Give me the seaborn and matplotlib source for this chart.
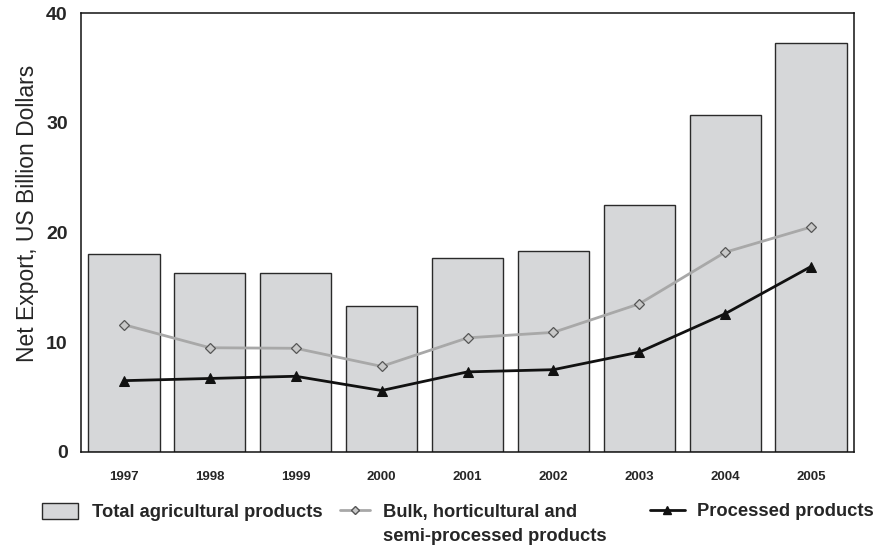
import numpy as np
import pandas as pd
import matplotlib
matplotlib.use("Agg")
import matplotlib.pyplot as plt
import seaborn as sns
from matplotlib.patches import Patch
from matplotlib.lines import Line2D

years = ["1997", "1998", "1999", "2000", "2001", "2002", "2003", "2004", "2005"]
total = [18.0, 16.3, 16.3, 13.3, 17.7, 18.3, 22.5, 30.7, 37.3]
bulk = [11.6, 9.5, 9.45, 7.8, 10.4, 10.9, 13.5, 18.2, 20.5]
processed = [6.5, 6.7, 6.9, 5.6, 7.3, 7.5, 9.1, 12.6, 16.9]

sns.set_theme(style="white")
plt.rcParams["font.family"] = ["Liberation Sans", "DejaVu Sans"]

df = pd.DataFrame({"year": years, "total": total, "bulk": bulk,
                   "processed": processed, "pos": np.arange(len(years))})

W, H = 881, 545
fig = plt.figure(figsize=(W / 100, H / 100), dpi=100)
ax = fig.add_axes([81 / W, 1 - 452 / H, (854 - 81) / W, (452 - 13) / H])

BAR_FILL = "#d6d7d9"
BAR_EDGE = "#2a2a2a"
BULK_COL = "#a8a8a8"
PROC_COL = "#111111"

sns.barplot(data=df, x="year", y="total", color=BAR_FILL, saturation=1,
            width=0.83, edgecolor=BAR_EDGE, linewidth=1.0, ax=ax, zorder=2)
sns.lineplot(data=df, x="pos", y="bulk", color=BULK_COL, linewidth=2.0,
             marker="D", markersize=5, markerfacecolor="#c8c8c8",
             markeredgecolor="#555555", markeredgewidth=0.9, ax=ax, zorder=3)
sns.lineplot(data=df, x="pos", y="processed", color=PROC_COL, linewidth=2.0,
             marker="^", markersize=7, markerfacecolor=PROC_COL,
             markeredgecolor=PROC_COL, ax=ax, zorder=4)

ax.set_xlim(-0.5, len(years) - 0.5)
ax.set_ylim(0, 40)
ax.set_yticks([0, 10, 20, 30, 40])
ax.set_xlabel("")
ax.set_ylabel("Net Export, US Billion Dollars", fontsize=16.5)
ax.yaxis.set_label_coords(-0.054, 0.544)
ax.tick_params(axis="y", length=0, pad=9.5, labelsize=14)
ax.tick_params(axis="x", length=0, pad=14, labelsize=9.5)
for lbl in ax.get_yticklabels() + ax.get_xticklabels():
    lbl.set_fontweight("bold")
for sp in ax.spines.values():
    sp.set_visible(True)
    sp.set_color("#111111")
    sp.set_linewidth(1.1)

# Legend entries placed individually along the bottom row
FS = 13.2
leg_kw = dict(frameon=False, prop={"weight": "bold", "size": FS},
              borderpad=0, borderaxespad=0, loc="center left")
row_y = 1 - 512 / H
fig.legend(handles=[Patch(facecolor=BAR_FILL, edgecolor=BAR_EDGE, linewidth=1.0)],
           labels=["Total agricultural products"], bbox_to_anchor=(42 / W, row_y),
           handlelength=1.97, handleheight=1.0, handletextpad=0.77, **leg_kw)
fig.legend(handles=[Line2D([], [], color=BULK_COL, linewidth=2.0, marker="D",
                           markersize=4, markerfacecolor="#c8c8c8",
                           markeredgecolor="#555555")],
           labels=["Bulk, horticultural and"], bbox_to_anchor=(340 / W, row_y),
           handlelength=1.64, handletextpad=0.71, **leg_kw)
fig.text(383 / W, 1 - 541 / H, "semi-processed products", fontsize=FS,
         fontweight="bold", ha="left", va="baseline")
fig.legend(handles=[Line2D([], [], color=PROC_COL, linewidth=2.0, marker="^",
                           markersize=6)],
           labels=["Processed products"], bbox_to_anchor=(650 / W, row_y),
           handlelength=1.9, handletextpad=0.65, **leg_kw)

fig.savefig("out.png", dpi=100, facecolor="white")
